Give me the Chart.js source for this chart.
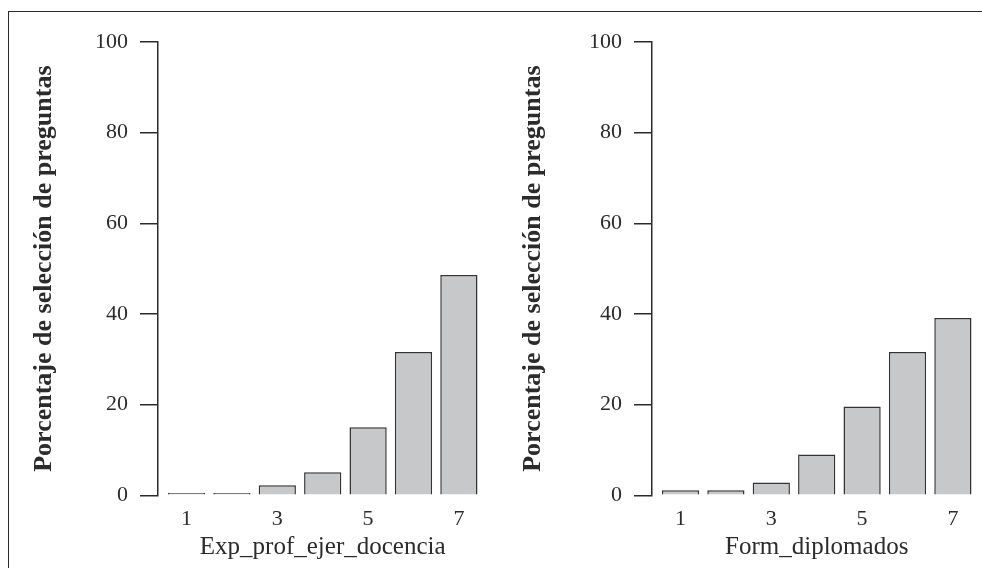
<!DOCTYPE html>
<html><head><meta charset="utf-8">
<script src="https://cdn.jsdelivr.net/npm/chart.js@4.4.0/dist/chart.umd.min.js"></script>
<style>
html,body{margin:0;padding:0;background:#fff;width:982px;height:568px;overflow:hidden;}
#frame{position:absolute;left:8px;top:11px;right:-5px;bottom:-5px;border-left:1.5px solid #2b2b2b;border-top:1.5px solid #2b2b2b;}
.panel{position:absolute;top:0;width:491px;height:568px;}
</style></head><body>
<div id="frame"></div>
<div class="panel" style="left:0"><canvas id="c1" width="491" height="568"></canvas></div>
<div class="panel" style="left:491px"><canvas id="c2" width="491" height="568"></canvas></div>
<script>
const categories = [1, 2, 3, 4, 5, 6, 7];
const xTickLabels = [1, 3, 5, 7];
const yTickValues = [0, 20, 40, 60, 80, 100];
const expProfValues = [0.5, 0.5, 2.2, 5.1, 15.0, 31.6, 48.6];
const formDiplomadosValues = [1.1, 1.1, 2.8, 9.0, 19.6, 31.6, 39.1];
const yAxisTitle = 'Porcentaje de selección de preguntas';
const leftXTitle = 'Exp_prof_ejer_docencia';
const rightXTitle = 'Form_diplomados';

const INK = '#2b2b2b';
const SERIF = '"Liberation Serif", "Times New Roman", serif';

function makeChart(id, values, xTitle, yAxisWidth, padRight, yTitlePad) {
  const ctx = document.getElementById(id);
  return new Chart(ctx, {
    type: 'bar',
    data: {
      datasets: [{
        data: categories.map((c, i) => ({ x: c, y: values[i] })),
        backgroundColor: '#c7c8ca',
        borderColor: '#333333',
        borderWidth: 1.5,
        barPercentage: 0.82,
        categoryPercentage: 1
      }]
    },
    options: {
      responsive: false,
      animation: false,
      devicePixelRatio: 1,
      layout: { padding: { left: 0, right: padRight, top: 42, bottom: 0 } },
      plugins: { legend: { display: false }, tooltip: { enabled: false } },
      scales: {
        x: {
          type: 'linear',
          offset: false,
          min: 0.372,
          max: 7.628,
          afterBuildTicks: (s) => { s.ticks = xTickLabels.map(v => ({ value: v })); },
          afterFit: (s) => { s.height = 568 - 495.3; },
          grid: { display: false, drawTicks: false, offset: false },
          border: { display: false },
          ticks: {
            autoSkip: false, maxRotation: 0, padding: 11,
            color: INK, font: { family: SERIF, size: 22 },
            callback: (v) => String(v)
          },
          title: {
            display: true, text: xTitle, color: INK,
            font: { family: SERIF, size: 25 },
            padding: { top: 0, bottom: 6 }
          }
        },
        y: {
          min: 0,
          max: 100,
          afterBuildTicks: (s) => { s.ticks = yTickValues.map(v => ({ value: v })); },
          afterFit: (s) => { s.width = yAxisWidth; },
          grid: { drawOnChartArea: false, drawTicks: true, tickLength: 18, color: INK, lineWidth: 1.5 },
          border: { display: true, color: INK, width: 1.5 },
          ticks: {
            padding: 12, color: INK, font: { family: SERIF, size: 22 },
            callback: (v) => String(v)
          },
          title: {
            display: true, text: yAxisTitle, color: INK,
            font: { family: SERIF, size: 26, weight: 'bold' },
            padding: { top: yTitlePad, bottom: 0 }
          }
        }
      }
    }
  });
}

makeChart('c1', expProfValues, leftXTitle, 158, 3.6, 29);
makeChart('c2', formDiplomadosValues, rightXTitle, 161, 0.6, 27);
</script>
</body></html>
